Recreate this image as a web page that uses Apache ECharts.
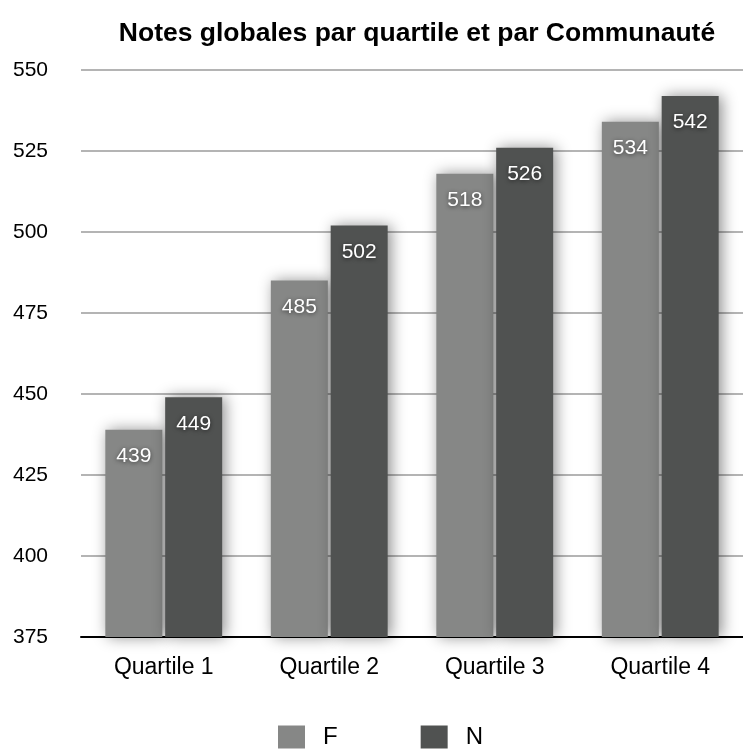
<!DOCTYPE html>
<html>
<head>
<meta charset="utf-8">
<script src="https://cdn.jsdelivr.net/npm/echarts@6/dist/echarts.min.js"></script>
<style>
  html, body { margin: 0; padding: 0; background: #fff; }
  #chart { width: 743px; height: 749px; }
</style>
</head>
<body>
<div id="chart"></div>
<script>
// données
const categories = ['Quartile 1', 'Quartile 2', 'Quartile 3', 'Quartile 4'];
const seriesNames = ['F', 'N'];
const valuesF = [439, 485, 518, 534];
const valuesN = [449, 502, 526, 542];
const yMin = 375, yMax = 550, yStep = 25;

const colors = ['#868786', '#505251'];
const font = 'Liberation Sans, Arial, Helvetica, sans-serif';

const myChart = echarts.init(document.getElementById('chart'));

function barSerie(name, data, color) {
    return {
        name: name,
        type: 'bar',
        data: data,
        barWidth: 57,
        barGap: '5%',
        itemStyle: {
            color: color,
            shadowColor: 'rgba(0,0,0,0.45)',
            shadowBlur: 14,
            shadowOffsetX: 3,
            shadowOffsetY: 0
        },
        label: {
            show: true,
            position: 'insideTop',
            distance: 16,
            color: '#fff',
            fontSize: 21,
            fontFamily: font,
            textShadowColor: 'rgba(0,0,0,0.6)',
            textShadowBlur: 4,
            textShadowOffsetY: 1
        }
    };
}

const option = {
    animation: false,
    title: {
        text: 'Notes globales par quartile et par Communauté',
        left: 412,
        textAlign: 'center',
        top: 15,
        textStyle: { fontSize: 26.5, fontWeight: 'bold', color: '#000', fontFamily: font }
    },
    legend: {
        data: seriesNames,
        top: 725,
        left: 278,
        padding: 0,
        icon: 'rect',
        itemWidth: 27,
        itemHeight: 23,
        itemGap: 83,
        textStyle: { fontSize: 24, color: '#000', fontFamily: font, padding: [0, 0, 0, 13] }
    },
    grid: {
        left: 81,
        right: -10,
        top: 70,
        bottom: 112,
        containLabel: false
    },
    xAxis: {
        type: 'category',
        data: categories,
        axisLine: { show: true, lineStyle: { color: '#000', width: 2 } },
        axisTick: { show: false },
        axisLabel: { color: '#000', fontSize: 23, fontFamily: font, margin: 19 }
    },
    yAxis: {
        type: 'value',
        min: yMin,
        max: yMax,
        interval: yStep,
        axisLine: { show: false },
        axisTick: { show: false },
        axisLabel: { color: '#000', fontSize: 21, fontFamily: font, align: 'left', margin: 68 },
        splitLine: { lineStyle: { color: '#b4b4b4', width: 2 } }
    },
    series: [
        barSerie(seriesNames[0], valuesF, colors[0]),
        barSerie(seriesNames[1], valuesN, colors[1])
    ]
};

myChart.setOption(option);
</script>
</body>
</html>
